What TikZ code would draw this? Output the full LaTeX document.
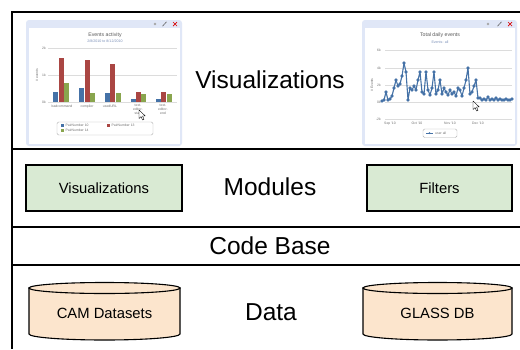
\documentclass[tikz,border=0pt]{standalone}
\usepackage{fontspec}
\setmainfont{Liberation Sans}
\definecolor{hcblue}{HTML}{4572A7}
\definecolor{hcred}{HTML}{AA4643}
\definecolor{hcgreen}{HTML}{89A54E}
\definecolor{modgreen}{HTML}{D9EAD3}
\definecolor{datapeach}{HTML}{FCE5CD}
\definecolor{panelblue}{HTML}{E0E7F7}
\definecolor{gridgray}{HTML}{DCDCDC}
\definecolor{txtgray}{HTML}{707070}
\definecolor{subblue}{HTML}{7A8FB8}
\begin{document}
\begin{tikzpicture}[x=1pt,y=-1pt,
  frameline/.style={line width=1.8pt, black},
  bigtxt/.style={font=\fontsize{24.5}{28}\selectfont, inner sep=0pt},
  smalltxt/.style={font=\fontsize{14.8}{17}\selectfont},
  modbox/.style={draw=black, line width=1.1pt, fill=modgreen, smalltxt, inner sep=0pt},
  cylfill/.style={draw=black, line width=1.1pt, fill=datapeach},
  panel/.style={fill=panelblue, rounded corners=3pt},
  grid/.style={gridgray, line width=0.4pt},
  tiny/.style={font=\fontsize{3.4}{3.8}\selectfont, text=txtgray, inner sep=0pt, align=center},
  ctitle/.style={font=\fontsize{5.2}{6}\selectfont, text=txtgray!80!black, inner sep=0pt},
  csub/.style={font=\fontsize{3.6}{4}\selectfont, text=subblue, inner sep=0pt},
  cursor/.style={fill=white, draw=black, line width=0.4pt, line join=round},
  legbox/.style={draw=gray!60, line width=0.4pt, rounded corners=1.5pt, fill=white}
]
\useasboundingbox (0,0) rectangle (520,349);
\fill[white] (0,0) rectangle (520,349);

% ---------------- panel 1 : bar chart ----------------
\fill[panel] (26,20) rectangle (182,146);
\fill[white] (28.5,28) rectangle (179.5,143.5);
% icons
\fill[gray!70] (155,24) circle[radius=1.3];
\draw[gray!80!black, line width=0.6pt] (162.5,26.2) -- (166.5,21.8);
\draw[red!85!black, line width=0.7pt] (173,22) -- (177,26) (173,26) -- (177,22);
% titles
\node[ctitle] (t1) at (105,35) {Events activity};
\node[csub] (s1) at (105,41) {2/8/2010 to 8/12/2010};
% grid
\draw[grid] (48,48) -- (177,48) (48,75) -- (177,75) (48,102) -- (177,102);
\node[tiny, anchor=east] (y2k) at (46,48) {2k};
\node[tiny, anchor=east] (y1k) at (46,75) {1k};
\node[tiny, anchor=east] (y0k) at (46,102) {0k};
\node[tiny, rotate=90] (ytitle1) at (37,75) {\# events};
% bars
\fill[hcblue] (53,92) rectangle (57.5,102);
\fill[hcred] (59,58) rectangle (63.5,102);
\fill[hcgreen] (64,83) rectangle (68.5,102);
\fill[hcblue] (79,88) rectangle (83.5,102);
\fill[hcred] (85,60) rectangle (89.5,102);
\fill[hcgreen] (90,93) rectangle (94.5,102);
\fill[hcblue] (105,93) rectangle (109.5,102);
\fill[hcred] (110,64) rectangle (114.5,102);
\fill[hcgreen] (116,93) rectangle (120.5,102);
\fill[hcblue] (131,99) rectangle (135.5,102);
\fill[hcred] (136,92) rectangle (140.5,102);
\fill[hcgreen] (141,94) rectangle (145.5,102);
\fill[hcblue] (156,99) rectangle (160.5,102);
\fill[hcred] (161,92) rectangle (165.5,102);
\fill[hcgreen] (167,94) rectangle (171.5,102);
% category labels
\node[tiny, anchor=north] (c1) at (62,104.5) {badcommand};
\node[tiny, anchor=north] (c2) at (87,104.5) {compiler};
\node[tiny, anchor=north] (c3) at (110,104.5) {usedURL};
\node[tiny, anchor=north] (c4) at (138,104.5) {text-\\editor-\\start};
\node[tiny, anchor=north] (c5) at (163,104.5) {text-\\editor-\\end};
% legend
\draw[legbox] (57,122) rectangle (153,135);
\fill[hcblue] (60.5,124) rectangle (64,127.3);
\node[tiny, anchor=west] (l1) at (65.5,125.7) {PairNumber 10};
\fill[hcred] (106.5,124) rectangle (110,127.3);
\node[tiny, anchor=west] (l2) at (111.5,125.7) {PairNumber 13};
\fill[hcgreen] (60.5,129) rectangle (64,132.3);
\node[tiny, anchor=west] (l3) at (65.5,130.7) {PairNumber 14};
% cursor
\draw[cursor] (139,110) -- (139,118.5) -- (141,116.6) -- (142.6,120) -- (144,119.3) -- (142.5,116) -- (145.3,116) -- cycle;

% ---------------- panel 2 : line chart ----------------
\fill[panel] (362,20) rectangle (517,146);
\fill[white] (364.5,28) rectangle (514.5,143.5);
\fill[gray!70] (488,24) circle[radius=1.3];
\draw[gray!80!black, line width=0.6pt] (497.5,26.2) -- (501.5,21.8);
\draw[red!85!black, line width=0.7pt] (508,22) -- (512,26) (508,26) -- (512,22);
\node[ctitle] (t2) at (440,35) {Total daily events};
\node[csub] (s2) at (440,42) {Events: all};
\draw[grid] (385,50) -- (512,50) (385,68) -- (512,68) (385,85) -- (512,85) (385,102) -- (512,102) (385,119) -- (512,119);
\node[tiny, anchor=east] (z6) at (381,50) {6k};
\node[tiny, anchor=east] (z4) at (381,68) {4k};
\node[tiny, anchor=east] (z2) at (381,85) {2k};
\node[tiny, anchor=east] (z0) at (381,102) {0k};
\node[tiny, anchor=east] (zm) at (381,119) {-2k};
\node[tiny, rotate=90] (ytitle2) at (372,85) {\# Events};
\node[tiny] (m1) at (390,123.5) {Sep '10};
\node[tiny] (m2) at (417,123.5) {Oct '10};
\node[tiny] (m3) at (450,123.5) {Nov '10};
\node[tiny] (m4) at (478,123.5) {Dec '10};
\draw[hcblue, line width=1.1pt, line join=round]
 plot[mark=*, mark size=1.2pt, mark options={hcblue}] coordinates {
 (382,101) (384,100) (386,92) (388,100) (390,99) (392,96) (394,88) (396,80)
 (398,86) (400,84) (402,76) (404,63) (406,72) (408,100) (410,88) (412,90)
 (414,86) (416,90) (418,80) (420,72) (422,92) (424,94) (426,72) (428,90)
 (430,95) (432,88) (434,72) (436,94) (438,90) (440,80) (442,94) (444,88)
 (446,92) (448,95) (450,90) (452,94) (454,92) (456,96) (458,88) (460,90)
 (462,96) (464,88) (466,80) (468,68) (470,94) (472,92) (474,86) (476,80)
 (478,98) (480,98) (482,100) (484,99) (486,100) (488,97) (490,100) (492,99)
 (494,100) (496,98) (498,100) (500,99) (502,100) (504,100) (506,99) (508,100)
 (510,100) (512,99)};
\draw[legbox] (423,129) rectangle (457,137.5);
\draw[hcblue, line width=0.6pt] (426,133.2) -- (433,133.2);
\fill[hcblue] (429.5,133.2) circle[radius=1pt];
\node[tiny, anchor=west] (ua) at (435,133.2) {user all};
\draw[cursor] (473,101) -- (473,109.5) -- (475,107.6) -- (476.6,111) -- (478,110.3) -- (476.5,107) -- (479.3,107) -- cycle;

% ---------------- layer frame ----------------
\draw[frameline] (520,12) -- (12,12) -- (12,349);
\draw[frameline] (12,149) -- (520,149);
\draw[frameline] (12,227) -- (520,227);
\draw[frameline] (12,265) -- (520,265);

% ---------------- layer labels ----------------
\node[bigtxt] (vislabel) at (270,80) {Visualizations};
\node[bigtxt] (modlabel) at (270,187) {Modules};
\node[bigtxt] (codelabel) at (270,246) {Code Base};
\node[bigtxt] (datalabel) at (271,312) {Data};

% ---------------- modules ----------------
\node[modbox, minimum width=156pt, minimum height=46pt] (modvis) at (104,188) {Visualizations};
\node[modbox, minimum width=145pt, minimum height=46pt] (modfil) at (439.5,188) {Filters};

% ---------------- data cylinders ----------------
\path[cylfill] (29,288) -- (29,334) arc[start angle=180, end angle=0, x radius=75.5, y radius=6] -- (180,288) -- cycle;
\path[cylfill] (104.5,288) ellipse[x radius=75.5, y radius=5.5];
\node[smalltxt] (cam) at (104.5,313) {CAM Datasets};
\path[cylfill] (363,288) -- (363,334) arc[start angle=180, end angle=0, x radius=74.5, y radius=6] -- (512,288) -- cycle;
\path[cylfill] (437.5,288) ellipse[x radius=74.5, y radius=5.5];
\node[smalltxt] (glass) at (437.5,313) {GLASS DB};
\end{tikzpicture}
\end{document}
